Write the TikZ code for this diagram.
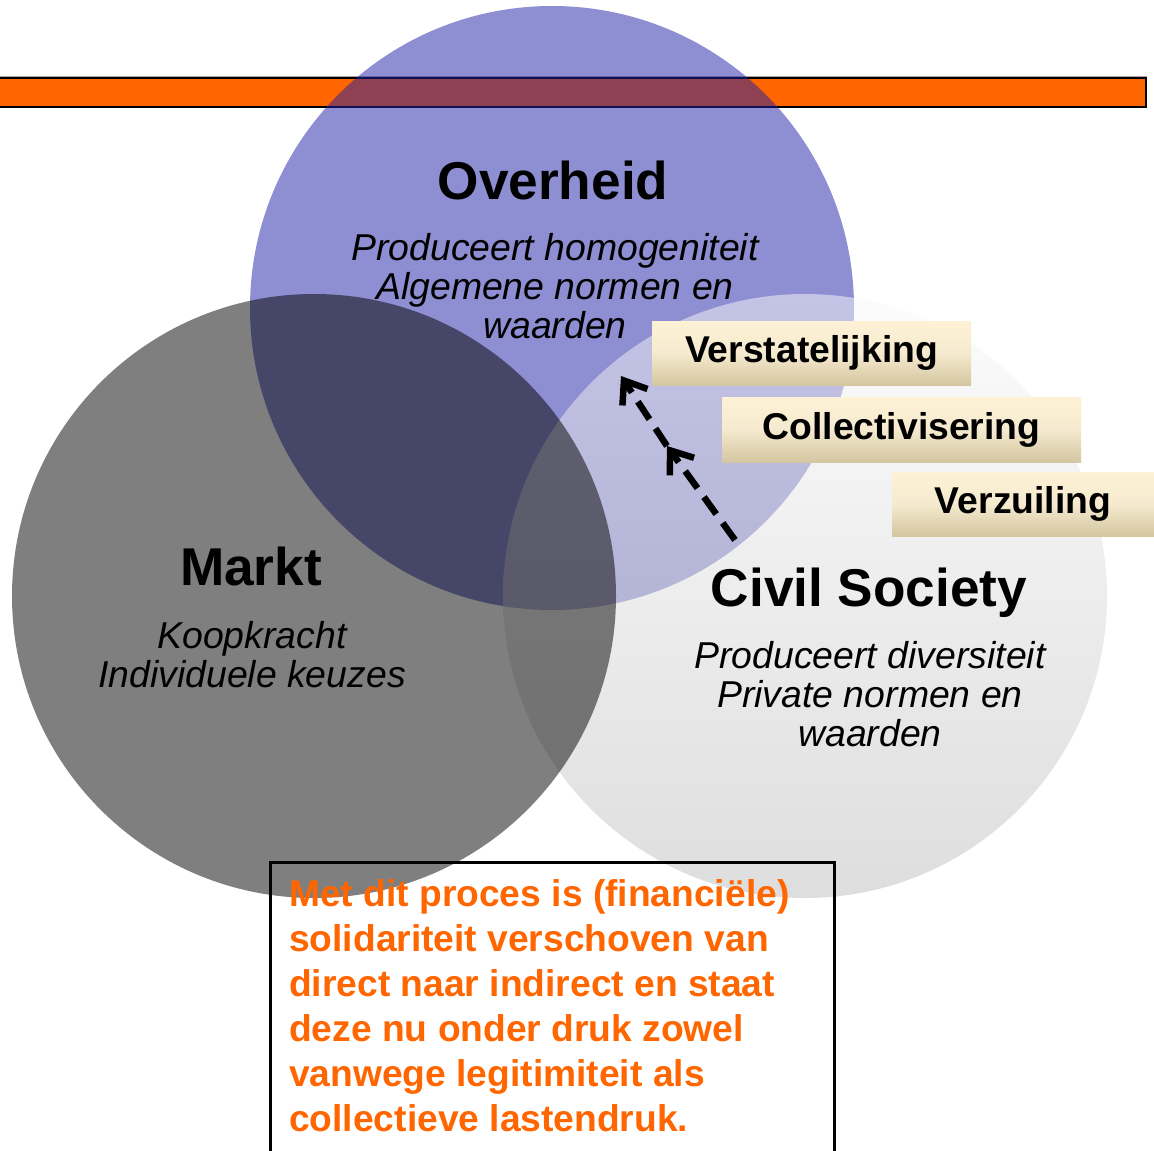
\documentclass[tikz,border=0pt]{standalone}
\usepackage{fontspec}
\setmainfont{Liberation Sans}
\usetikzlibrary{arrows.meta}
\definecolor{orangeC}{RGB}{255,102,0}
\definecolor{blueC}{RGB}{30,30,166}
\definecolor{civTop}{RGB}{250,250,250}
\definecolor{civBot}{RGB}{190,190,190}
\definecolor{boxTop}{RGB}{254,241,214}
\definecolor{boxMid}{RGB}{245,234,207}
\definecolor{boxBot}{RGB}{212,198,160}
\tikzset{
  labelbox/.style={rectangle, inner sep=0pt, top color=boxTop, bottom color=boxBot, middle color=boxMid,
    font=\bfseries\fontsize{37.3}{40}\selectfont, text=black},
  title/.style={font=\bfseries\fontsize{53.2}{60}\selectfont, inner sep=0pt, anchor=base},
  desc/.style={font=\itshape\fontsize{37.4}{39.3}\selectfont, inner sep=0pt, anchor=north, align=center},
  dasharrow/.style={line width=6.5pt, dash pattern=on 21pt off 11pt,
    -{Straight Barb[length=20pt,width=30pt,line width=6.5pt]}},
}
\begin{document}
\begin{tikzpicture}[x=1pt,y=-1pt]
\useasboundingbox (0,0) rectangle (1154,1151);
\fill[white] (0,0) rectangle (1154,1151);
% orange bar
\draw[gray!70, line width=1pt] (-5,76) -- (1147,76);
\path[fill=orangeC, draw=black, line width=2.5pt] (-5,78) rectangle (1146,107);
% circles
\path[fill=blueC, fill opacity=0.5] (552,308) circle[radius=302pt];
\shade[top color=civTop, bottom color=civBot, fill opacity=0.5] (805,596) circle[radius=302pt];
\path[fill=black, fill opacity=0.5] (314,596) circle[radius=302pt];
% titles
\node[title] (ovt) at (553,199) {Overheid};
\node[desc] (ovd) at (555,233) {Produceert homogeniteit\\Algemene normen en\\waarden};
\node[title] (mkt) at (251,585) {Markt};
\node[desc] (mkd) at (252,621) {Koopkracht\\Individuele keuzes};
\node[title] (cst) at (869,606) {Civil Society};
\node[desc] (csd) at (870,641) {Produceert diversiteit\\Private normen en\\waarden};
% label boxes
\node[labelbox, minimum width=319pt, minimum height=64pt] (b1) at (811.5,353) {Verstatelijking};
\node[labelbox, minimum width=359pt, minimum height=65pt] (b2) at (901.5,429.5) {Collectivisering};
\node[labelbox, minimum width=262pt, minimum height=64pt] (b3) at (1023,504) {Verzuiling};
% arrow
\coordinate (a0) at (735,540);
\coordinate (a1) at (667,446);
\coordinate (a2) at (621,376);
\draw[dasharrow] (a0) -- (a1);
\draw[dasharrow] (a1) -- (a2);
% bottom box
\node[draw=black, line width=3pt, minimum width=564pt, minimum height=290pt, inner sep=0pt, anchor=north west] (box) at (269,861) {};
\node[font=\bfseries\fontsize{37.2}{45}\selectfont, text=orangeC, align=left, inner sep=0pt, anchor=north west] (boxt) at (289,879)
 {Met dit proces is (financiële)\\solidariteit verschoven van\\direct naar indirect en staat\\deze nu onder druk zowel\\vanwege legitimiteit als\\collectieve lastendruk.};
\end{tikzpicture}
\end{document}
